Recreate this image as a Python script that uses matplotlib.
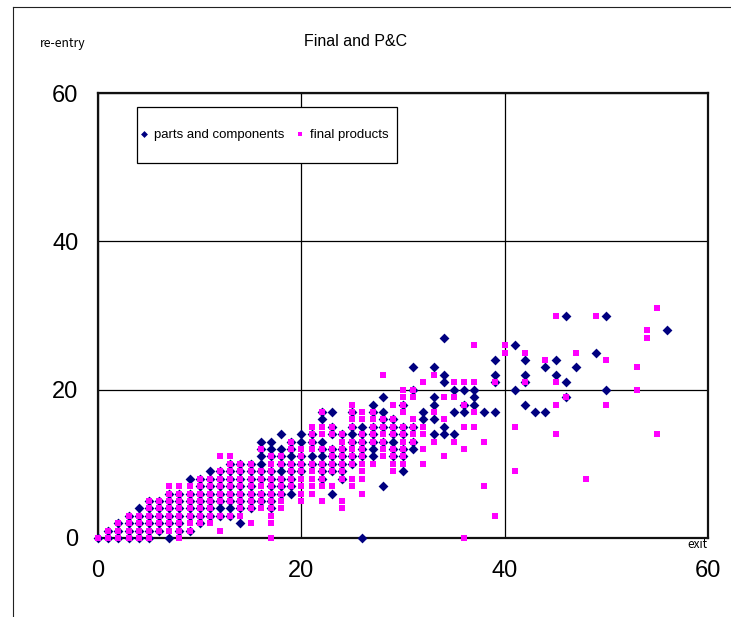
import matplotlib
matplotlib.use("Agg")
import matplotlib.pyplot as plt
from matplotlib.lines import Line2D
from matplotlib.patches import Rectangle

# re-entry counts listed per exit count (index = exit value 0..56)
pc_reentry = [
    [0],
    [0, 1],
    [0, 1, 2],
    [0, 1, 2, 3],
    [0, 1, 2, 3, 4],
    [0, 1, 2, 3, 4, 5],
    [1, 2, 3, 4, 5],
    [0, 2, 3, 4, 5, 6],
    [1, 2, 3, 4, 5, 6],
    [1, 3, 4, 5, 6, 8],
    [2, 3, 4, 5, 6, 7, 8],                  # 10
    [3, 4, 5, 6, 7, 8, 9],
    [3, 4, 5, 6, 7, 8, 9],
    [3, 4, 5, 6, 7, 8, 9, 10],
    [2, 4, 5, 6, 7, 8, 9, 10],
    [4, 5, 6, 7, 8, 9, 10],
    [5, 6, 8, 9, 10, 11, 12, 13],
    [4, 5, 6, 7, 8, 9, 11, 12, 13],
    [6, 7, 8, 9, 10, 11, 12, 14],
    [6, 7, 8, 9, 10, 11, 12, 13],
    [9, 10, 11, 13, 14],                    # 20
    [10, 11, 13, 14],
    [8, 9, 10, 11, 12, 13, 16, 17],
    [6, 9, 10, 11, 12, 14, 15, 17],
    [8, 9, 10, 11, 12, 14],
    [10, 11, 13, 14, 15, 17],
    [0, 11, 12, 13, 14, 15],
    [11, 12, 13, 14, 15, 17, 18],
    [7, 13, 15, 16, 17, 19],
    [11, 12, 13, 14, 15, 16],
    [9, 11, 12, 14, 15, 18],                # 30
    [12, 13, 15, 20, 23],
    [16, 17],
    [14, 16, 18, 19, 23],
    [14, 15, 21, 22, 27],
    [14, 17, 20],
    [17, 18, 20],
    [18, 19, 20],
    [17],
    [17, 21, 22, 24],
    [],                                     # 40
    [20, 26],
    [18, 21, 22, 24],
    [17],
    [17, 23],
    [22, 24],
    [19, 21, 30],
    [23],
    [],
    [25],
    [20, 30],                               # 50
    [],
    [],
    [],
    [],
    [],
    [28],
]

fp_reentry = [
    [0],
    [0, 1],
    [0, 1, 2],
    [0, 1, 2, 3],
    [0, 1, 2, 3],
    [0, 1, 2, 3, 4, 5],
    [1, 2, 3, 4, 5],
    [1, 2, 3, 4, 5, 6, 7],
    [0, 1, 2, 3, 4, 5, 6, 7],
    [1, 2, 3, 4, 5, 6, 7],
    [2, 3, 4, 5, 6, 7, 8],                  # 10
    [2, 3, 4, 5, 6, 7, 8],
    [1, 3, 5, 6, 7, 8, 9, 11],
    [3, 5, 6, 7, 8, 9, 10, 11],
    [3, 4, 5, 6, 7, 8, 9, 10],
    [2, 4, 5, 6, 7, 8, 9, 10],
    [4, 5, 6, 7, 8, 9, 12],
    [0, 2, 3, 4, 5, 6, 7, 8, 9, 10, 11],
    [4, 5, 6, 7, 8, 10, 11],
    [7, 8, 9, 10, 12, 13],
    [5, 6, 7, 8, 9, 10, 11, 12],            # 20
    [6, 7, 8, 9, 10, 12, 13, 14, 15],
    [5, 7, 8, 9, 10, 12, 14, 15, 17],
    [7, 9, 10, 11, 12, 14, 15],
    [4, 5, 8, 9, 10, 11, 12, 13, 14],
    [7, 8, 10, 11, 12, 13, 15, 16, 17, 18],
    [6, 8, 9, 10, 11, 12, 13, 14, 16, 17],
    [10, 13, 14, 15, 16, 17],
    [11, 12, 13, 14, 15, 16, 22],
    [9, 10, 11, 12, 14, 15, 16, 18],
    [10, 11, 12, 13, 14, 15, 17, 18, 19, 20],  # 30
    [13, 14, 15, 16, 19, 20],
    [10, 12, 14, 15, 21],
    [13, 17, 22],
    [11, 16, 19],
    [13, 19, 21],
    [0, 12, 15, 18, 21],
    [15, 17, 21, 26],
    [7, 13],
    [3, 21],
    [25, 26],                               # 40
    [9, 15],
    [21, 25],
    [],
    [24],
    [14, 18, 21, 30],
    [19],
    [25],
    [8],
    [30],
    [18, 24],                               # 50
    [],
    [],
    [20, 23],
    [27, 28],
    [14, 31],
    [],
]

axis_ticks = [0, 20, 40, 60]
series_labels = ["parts and components", "final products"]


def to_points(columns):
    xs, ys = [], []
    for exit_val, vals in enumerate(columns):
        for v in vals:
            xs.append(exit_val)
            ys.append(v)
    return xs, ys


W, H = 731, 617
fig = plt.figure(figsize=(W / 100, H / 100), dpi=100)
ax = fig.add_axes([98 / W, (H - 538) / H, 610 / W, 445 / H])

pc_x, pc_y = to_points(pc_reentry)
fp_x, fp_y = to_points(fp_reentry)

ax.scatter(pc_x, pc_y, marker="D", s=25, color="#000080", linewidths=0,
           label=series_labels[0], zorder=3, clip_on=False)
ax.scatter(fp_x, fp_y, marker="s", s=16, color="#FF00FF", linewidths=0,
           label=series_labels[1], zorder=4, clip_on=False)

ax.set_xlim(0, 60)
ax.set_ylim(0, 60)
ax.set_xticks(axis_ticks)
ax.set_yticks(axis_ticks)
ax.grid(True, color="black", linewidth=0.9)
ax.set_axisbelow(True)
for sp in ax.spines.values():
    sp.set_linewidth(1.6)
    sp.set_color("#111111")
ax.tick_params(axis="both", length=0, labelsize=17)
ax.tick_params(axis="x", pad=16)
ax.tick_params(axis="y", pad=14)
for lbl in ax.get_xticklabels() + ax.get_yticklabels():
    lbl.set_fontfamily("Liberation Sans")

# legend entries without their own frame; the box is drawn separately
leg = ax.legend(loc="center left", bbox_to_anchor=((141 - 98) / 610, (538 - 135) / 445),
                borderaxespad=0, borderpad=0, ncol=2, frameon=False,
                handlelength=0.5, handletextpad=0.5, columnspacing=0.9,
                markerscale=0.7, scatteryoffsets=[0.5],
                prop={"family": "Liberation Sans", "size": 9.5})
leg.set_zorder(6)
ax.add_patch(Rectangle(((137 - 98) / 610, (538 - 163) / 445), 260 / 610, 56 / 445,
                       transform=ax.transAxes, facecolor="white", edgecolor="black",
                       linewidth=0.9, zorder=5, clip_on=False))

fig.text(356 / W, 1 - 42 / H, "Final and P&C", ha="center", va="center",
         fontsize=11.5, family="Liberation Sans")
fig.text(40 / W, 1 - 43 / H, "re-entry", ha="left", va="center",
         fontsize=8.8, family=["Noto Sans CJK JP", "DejaVu Sans"])
fig.text(708 / W, 1 - 544 / H, "exit", ha="right", va="center",
         fontsize=8.5, family=["Noto Sans CJK JP", "DejaVu Sans"])

# outer chart frame (left and top edges)
fig.add_artist(Line2D([13 / W, 13 / W], [0, 1 - 7 / H], color="#222222", linewidth=0.8))
fig.add_artist(Line2D([13 / W, 1], [1 - 7 / H, 1 - 7 / H], color="#222222", linewidth=0.8))

fig.savefig("out.png", dpi=100, facecolor="white")
